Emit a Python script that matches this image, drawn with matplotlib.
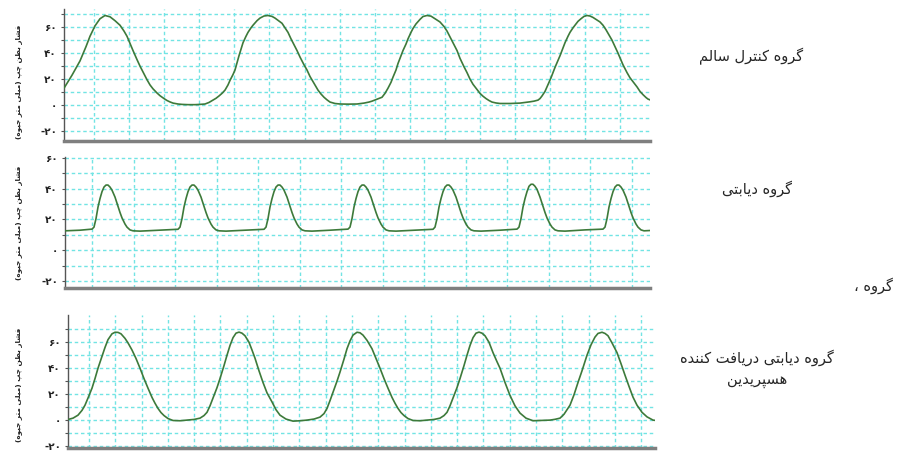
import matplotlib
matplotlib.use("Agg")
import matplotlib.pyplot as plt
import numpy as np

# ---- data: (time in sample units, left-ventricle pressure in mmHg) ----
control = [(64, 13), (72, 23), (80, 34), (86, 45), (90, 53), (95, 61), (100, 66.5), (105, 69),
           (110, 68), (115, 65), (120, 61.5), (124, 57), (127, 53), (130, 47.5), (133, 42),
           (137, 35), (140, 30), (144, 24), (147, 19.5), (150, 15.5), (153, 12.5), (157, 9.3),
           (160, 7.2), (164, 5), (167, 3.5), (170, 2.4), (173, 1.5), (178, 0.8), (182, 0.5),
           (188, 0.3), (195, 0.3), (200, 0.5), (205, 0.8), (209, 2), (213, 3.8),
           (216, 5.2), (219, 7), (222, 9), (225, 11.5), (228, 15.5), (230, 19), (233, 23.5),
           (235, 27), (239, 38), (243, 48), (246, 53), (248, 56), (251, 59.5), (253, 61.5),
           (257, 65), (260, 67), (264, 68.6), (268, 69), (272, 68.3), (275, 67), (278, 65.3),
           (282, 63), (285, 59.5), (288, 56), (291, 51), (293, 48), (297, 42), (300, 37),
           (304, 31), (307, 27), (310, 22), (313, 18), (316, 14), (318, 11.5), (321, 8.5),
           (324, 6), (327, 4), (330, 2.3), (335, 1.2), (340, 0.8), (348, 0.7), (357, 0.8),
           (364, 1.5), (369, 2.3), (372, 3),
           (377, 4.5), (382, 6), (385, 9), (388, 13), (391, 17.5), (393, 21.5), (396, 27),
           (398, 32), (401, 38), (403, 42), (406, 47), (408, 51), (411, 56), (413, 59),
           (416, 62.5), (420, 66), (423, 68.2), (427, 69), (431, 68.5), (433, 67.5),
           (437, 65.5), (440, 64), (444, 60.5), (447, 57), (450, 52.5), (453, 48), (457, 42),
           (460, 36), (464, 29.5), (467, 25), (470, 20), (473, 16), (477, 12), (480, 9),
           (483, 6.8), (486, 5), (489, 3.5), (492, 2.3), (496, 1.6), (500, 1.2), (510, 1.2),
           (520, 1.5), (525, 2), (530, 2.5), (534, 3), (538, 3.8),
           (540, 5), (542, 7), (545, 10.5), (547, 14), (549, 17.5), (551, 21), (553, 25),
           (555, 29), (558, 34.5), (560, 38), (563, 44), (565, 48), (568, 53), (570, 56),
           (573, 59.5), (575, 61.5), (578, 64.5), (581, 66.5), (584, 68.3), (587, 69),
           (590, 68.6), (593, 67.5), (596, 66), (600, 64), (603, 61.5), (606, 58), (609, 54),
           (612, 50), (615, 45), (618, 40), (621, 34.5), (623, 31), (627, 25), (630, 21),
           (634, 17), (637, 14), (640, 10.5), (643, 8), (646, 5.8), (648, 4.6), (650, 4)]

diabetic = [(65, 12.6), (80, 13), (92, 13.7), (94, 15), (96, 20.5), (98, 28), (100, 33.5),
            (102, 38), (104, 41), (106, 42.3), (108, 42.3), (110, 41), (112, 39), (115, 34.5),
            (117, 30.5), (120, 24.5), (122, 21), (125, 17), (127, 15), (130, 13.2), (133, 12.6),
            (140, 12.4), (160, 13),
            (178, 13.6), (180, 15), (182, 20.5), (184, 28), (186, 33.5), (188, 38), (190, 41),
            (192, 42.3), (194, 42.3), (196, 41), (198, 39), (201, 34.5), (203, 30.5),
            (206, 24.5), (208, 21), (211, 17), (213, 15), (216, 13.2), (219, 12.6), (226, 12.4),
            (245, 13),
            (264, 13.6), (266, 15), (268, 20.5), (270, 28), (272, 33.5), (274, 38), (276, 41),
            (278, 42.3), (280, 42.3), (282, 41), (284, 39), (287, 34.5), (289, 30.5),
            (292, 24.5), (294, 21), (297, 17), (299, 15), (302, 13.2), (305, 12.6), (312, 12.4),
            (330, 13),
            (348, 13.7), (350, 15), (352, 20.5), (354, 28), (356, 33.5), (358, 38), (360, 41),
            (362, 42.3), (364, 42.3), (366, 41), (368, 39), (371, 34.5), (373, 30.5),
            (376, 24.5), (378, 21), (381, 17), (383, 15), (386, 13.2), (389, 12.6), (396, 12.4),
            (415, 13),
            (433, 13.6), (435, 15), (437, 20.5), (439, 28), (441, 33.5), (443, 38), (445, 41),
            (447, 42.3), (449, 42.3), (451, 41), (453, 39), (456, 34.5), (458, 30.5),
            (461, 24.5), (463, 21), (466, 17), (468, 15), (471, 13.2), (474, 12.6), (481, 12.4),
            (500, 13),
            (517, 13.7), (519, 15), (521, 20.5), (523, 28), (525, 33.5), (527, 38), (529, 41.5),
            (531, 42.8), (533, 42.8), (535, 41.5), (537, 39.5), (540, 34.5), (542, 30.5),
            (545, 24.5), (547, 21), (550, 17), (552, 15), (555, 13.2), (558, 12.6), (565, 12.4),
            (585, 13.2),
            (603, 13.7), (605, 15), (607, 20.5), (609, 28), (611, 33.5), (613, 38), (615, 41),
            (617, 42.3), (619, 42.3), (621, 41), (623, 39), (626, 34.5), (628, 30.5),
            (631, 24.5), (633, 21), (636, 17), (638, 15), (641, 13.2), (644, 12.6), (650, 12.8)]

hesperidin = [(68, 0.5), (73, 1.5), (78, 3.8), (82, 7.5), (85, 11.5), (88, 17), (92, 24.6),
              (95, 32), (98, 40), (102, 49), (105, 56), (108, 62), (112, 66.5), (115, 67.7),
              (118, 67.6), (121, 66.5), (125, 63), (128, 59.5), (132, 54), (136, 47.5),
              (140, 40), (144, 32), (148, 24.6), (152, 17.5), (155, 13), (158, 9), (161, 5.8),
              (164, 3.5), (168, 1.2), (173, -0.3), (180, -0.5), (187, 0), (194, 0.5), (200, 1.5),
              (204, 3.5),
              (207, 6), (210, 11), (213, 17), (217, 25), (220, 32), (224, 42), (227, 50),
              (230, 57.5), (233, 63.5), (236, 67), (239, 67.8), (242, 67), (245, 65), (249, 60),
              (252, 54), (255, 47.7), (259, 38), (263, 29), (267, 21), (272, 14), (276, 8),
              (280, 3.8), (286, 0.8), (293, -0.8), (300, -0.5), (307, 0), (314, 0.8), (320, 2.3),
              (324, 5), (327, 9), (330, 15), (333, 21.5), (337, 30), (340, 37), (344, 47),
              (347, 55), (350, 61), (353, 65.5), (357, 67.7), (360, 67.3), (363, 65.5),
              (367, 61.5), (372, 55), (376, 47.5), (380, 40), (384, 32), (388, 24.6),
              (392, 17.5), (395, 13), (398, 9), (401, 5.8), (404, 3.5), (408, 1.2), (413, -0.3),
              (420, -0.5), (427, 0), (434, 0.5), (440, 1.5), (444, 3.5),
              (447, 6), (450, 11), (453, 17), (457, 25), (460, 32), (464, 42), (467, 50),
              (470, 57.5), (473, 63.5), (476, 67), (479, 67.8), (482, 67), (485, 65), (489, 60),
              (493, 52), (497, 45), (500, 40), (505, 29), (510, 19), (515, 11), (520, 5.4),
              (526, 1.5), (533, -0.5), (541, -0.3), (550, 0), (555, 0.6), (560, 1.5), (564, 4.5),
              (567, 8), (570, 11.5), (574, 19.5), (578, 29), (582, 38), (587, 50), (591, 58),
              (595, 64), (598, 66.8), (602, 67.7), (605, 66.8), (608, 65), (612, 59.5), (617, 52),
              (621, 43.5), (625, 34.6), (629, 26), (633, 17.7), (637, 11.5), (642, 6),
              (647, 2.5), (653, 0), (655, -0.2)]

group_labels = [["گروه کنترل سالم"],
                ["گروه دیابتی"],
                ["گروه دیابتی دریافت کننده", "هسپریدین"]]
stray_label = "گروه ،"
y_label = "فشار بطن چپ (میلی متر جیوه)"
y_values = [-20, -10, 0, 10, 20, 30, 40, 50, 60, 70]
fa_digits = str.maketrans("0123456789", "۰۱۲۳۴۵۶۷۸۹")

# ---- tiny Persian shaper (matplotlib has no bidi / joining) ----
FORMS = {
    'ا': ('\uFE8D', '\uFE8E', None, None),
    'ب': ('\uFE8F', '\uFE90', '\uFE91', '\uFE92'),
    'پ': ('\uFB56', '\uFB57', '\uFB58', '\uFB59'),
    'ت': ('\uFE95', '\uFE96', '\uFE97', '\uFE98'),
    'ج': ('\uFE9D', '\uFE9E', '\uFE9F', '\uFEA0'),
    'چ': ('\uFB7A', '\uFB7B', '\uFB7C', '\uFB7D'),
    'د': ('\uFEA9', '\uFEAA', None, None),
    'ر': ('\uFEAD', '\uFEAE', None, None),
    'س': ('\uFEB1', '\uFEB2', '\uFEB3', '\uFEB4'),
    'ش': ('\uFEB5', '\uFEB6', '\uFEB7', '\uFEB8'),
    'ط': ('\uFEC1', '\uFEC2', '\uFEC3', '\uFEC4'),
    'ف': ('\uFED1', '\uFED2', '\uFED3', '\uFED4'),
    'ک': ('\uFB8E', '\uFB8F', '\uFB90', '\uFB91'),
    'ك': ('\uFED9', '\uFEDA', '\uFEDB', '\uFEDC'),
    'گ': ('\uFB92', '\uFB93', '\uFB94', '\uFB95'),
    'ل': ('\uFEDD', '\uFEDE', '\uFEDF', '\uFEE0'),
    'م': ('\uFEE1', '\uFEE2', '\uFEE3', '\uFEE4'),
    'ن': ('\uFEE5', '\uFEE6', '\uFEE7', '\uFEE8'),
    'ه': ('\uFEE9', '\uFEEA', '\uFEEB', '\uFEEC'),
    'و': ('\uFEED', '\uFEEE', None, None),
    'ی': ('\uFBFC', '\uFBFD', '\uFBFE', '\uFBFF'),
    'ي': ('\uFEF1', '\uFEF2', '\uFEF3', '\uFEF4'),
}


def shape(text):
    out = []
    for i, ch in enumerate(text):
        f = FORMS.get(ch)
        if f is None:
            out.append(ch)
            continue
        prev = text[i - 1] if i > 0 else ''
        nxt = text[i + 1] if i < len(text) - 1 else ''
        jp = prev in FORMS and FORMS[prev][2] is not None
        jn = f[2] is not None and nxt in FORMS
        if jp and jn:
            out.append(f[3])
        elif jp:
            out.append(f[1])
        elif jn:
            out.append(f[2])
        else:
            out.append(f[0])
    return ''.join(reversed(out)).translate(str.maketrans('()', ')('))


def tick_text(v):
    if v % 20:
        return ''
    s = str(abs(v)).translate(fa_digits)
    return '-' + s if v < 0 else s


plt.rcParams['font.family'] = ['DejaVu Sans']

W, H = 904, 451
fig = plt.figure(figsize=(W / 100, H / 100), dpi=100, facecolor='white')

# panel boxes in pixels: left, top, right, bottom
boxes = [(64, 9, 650, 141), (65, 157, 650, 288), (68, 315, 655, 448)]
series = [control, diabetic, hesperidin]
ylims = [(-27.7, 74), (-24.5, 60.5), (-21.5, 81)]
ymax_grid = [70, 60, 70]
xgrid = [(94, 35.1), (92, 41.5), (89, 26.3)]
ylabel_cy = [82, 223, 385]

for k in range(3):
    l, t, r, b = boxes[k]
    ax = fig.add_axes([l / W, 1 - b / H, (r - l) / W, (b - t) / H])
    ax.set_facecolor('white')
    x, y = zip(*series[k])
    ax.plot(x, y, color='#3d7a3a', lw=1.2, zorder=3, solid_joinstyle='round')
    ax.set_xlim(x[0], r)
    ax.set_ylim(*ylims[k])

    x0, dx = xgrid[k]
    ax.set_xticks(np.arange(x0, r, dx))
    yt = [v for v in y_values if v <= ymax_grid[k]]
    ax.set_yticks(yt)
    ax.set_yticklabels([tick_text(v) for v in yt], fontsize=7.5, fontweight='bold',
                       color='#222')
    ax.tick_params(axis='x', length=0, labelbottom=False)
    ax.tick_params(axis='y', length=2, width=0.8, color='#555', pad=3)
    ax.grid(True, color='#72e4e4', lw=1, ls=(0, (2.5, 2)), zorder=1)

    for s in ['top', 'right']:
        ax.spines[s].set_visible(False)
    ax.spines['left'].set_color('#555555')
    ax.spines['left'].set_linewidth(1)
    ax.spines['bottom'].set_color('#7f7f7f')
    ax.spines['bottom'].set_linewidth(2.5)

    fig.text(19 / W, 1 - ylabel_cy[k] / H, shape(y_label), rotation=90,
             ha='center', va='center', fontsize=5.2, fontweight='bold', color='#222')

# group names on the right
txt = dict(ha='center', va='center', fontsize=10.5, color='#262626')
fig.text(751 / W, 1 - 56 / H, shape(group_labels[0][0]), **txt)
fig.text(757 / W, 1 - 189 / H, shape(group_labels[1][0]), **txt)
fig.text(757 / W, 1 - 358 / H, shape(group_labels[2][0]), **txt)
fig.text(757 / W, 1 - 381 / H, shape(group_labels[2][1]), **txt)
fig.text(893 / W, 1 - 286 / H, shape(stray_label), ha='right', va='center',
         fontsize=10.5, color='#262626')

plt.savefig("out.png", dpi=100, facecolor='white')
plt.close()
